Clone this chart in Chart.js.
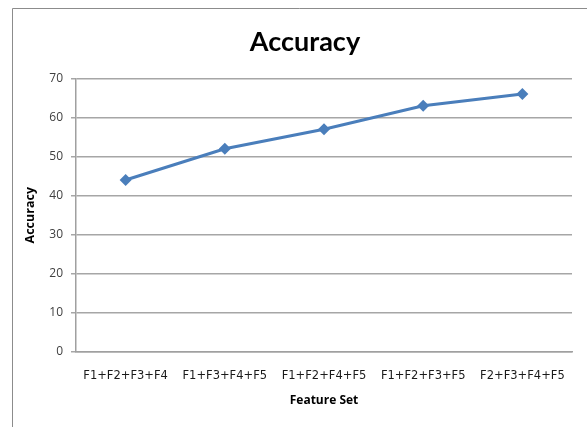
<!DOCTYPE html>
<html>
<head>
<meta charset="utf-8">
<script src="https://cdn.jsdelivr.net/npm/chart.js@4/dist/chart.umd.min.js"></script>
<style>
html,body{margin:0;padding:0;background:#fff;}
#wrap{width:587px;height:427px;position:relative;}
</style>
</head>
<body>
<div id="wrap"><canvas id="c" width="587" height="427"></canvas></div>
<script>
const categories = ["F1+F2+F3+F4", "F1+F3+F4+F5", "F1+F2+F4+F5", "F1+F2+F3+F5", "F2+F3+F4+F5"];
const accuracy = [44, 52, 57, 63, 66];
const yTicks = [0, 10, 20, 30, 40, 50, 60, 70];

const frame = {
  id: 'frame',
  beforeDraw(chart) {
    const ctx = chart.ctx;
    ctx.save();
    ctx.fillStyle = '#ffffff';
    ctx.fillRect(0, 0, chart.width, chart.height);
    ctx.strokeStyle = '#8c8c8c';
    ctx.lineWidth = 1;
    ctx.beginPath();
    ctx.moveTo(12.5, chart.height);
    ctx.lineTo(12.5, 8.5);
    ctx.lineTo(chart.width, 8.5);
    ctx.stroke();
    ctx.restore();
  }
};

new Chart(document.getElementById('c'), {
  type: 'line',
  data: {
    labels: categories,
    datasets: [{
      label: 'Accuracy',
      data: accuracy,
      borderColor: '#4a7ebb',
      backgroundColor: '#4a7ebb',
      borderWidth: 3,
      pointStyle: 'rectRot',
      pointRadius: 6,
      pointHoverRadius: 6,
      pointBorderWidth: 0,
      tension: 0,
      fill: false
    }]
  },
  options: {
    responsive: false,
    animation: false,
    devicePixelRatio: 1,
    layout: { padding: { left: 23, right: 0, top: 0, bottom: 19 } },
    plugins: {
      legend: { display: false },
      tooltip: { enabled: false },
      title: {
        display: true,
        text: 'Accuracy',
        color: '#000000',
        font: { family: 'Lato', size: 27, weight: 'bold' },
        padding: { top: 26, bottom: 20 }
      }
    },
    scales: {
      x: {
        type: 'category',
        offset: true,
        grid: { display: false, drawTicks: false },
        border: { display: true, color: '#a0a0a0', width: 1.5 },
        ticks: {
          color: '#1a1a1a',
          font: { family: 'DejaVu Sans', size: 11.5 },
          padding: 17,
          maxRotation: 0,
          autoSkip: false
        },
        title: {
          display: true,
          text: 'Feature Set',
          color: '#000000',
          font: { family: 'Open Sans', size: 12, weight: 'bold' },
          padding: { top: 8, bottom: 0 }
        },
        afterFit(s) { s.height = 56; }
      },
      y: {
        min: 0,
        max: 70,
        afterBuildTicks(s) { s.ticks = yTicks.map(v => ({ value: v })); },
        grid: { color: '#a6a6a6', lineWidth: 1.5, tickLength: 5, drawTicks: true },
        border: { display: true, color: '#a0a0a0', width: 1.5 },
        ticks: {
          color: '#404040',
          font: { family: 'Open Sans', size: 12 },
          padding: 8
        },
        title: {
          display: true,
          text: 'Accuracy',
          color: '#000000',
          font: { family: 'Open Sans', size: 12.5, weight: 'bold' },
          padding: { top: 0, bottom: 0 }
        },
        afterFit(s) { s.width = 53; }
      },
      yRight: {
        position: 'right',
        display: true,
        grid: { display: false, drawTicks: false },
        border: { display: false },
        ticks: { display: false },
        afterFit(s) { s.width = 15; }
      }
    }
  },
  plugins: [frame]
});
</script>
</body>
</html>
